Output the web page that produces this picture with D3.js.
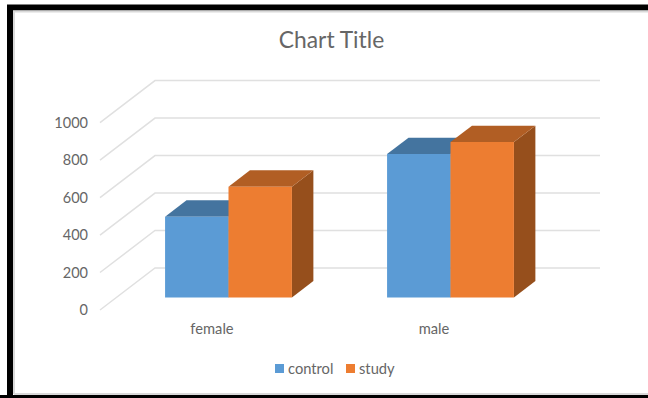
<!DOCTYPE html>
<html>
<head>
<meta charset="utf-8">
<script src="https://cdn.jsdelivr.net/npm/d3@7/dist/d3.min.js"></script>
<style>
  html, body { margin: 0; padding: 0; background: #fff; }
  svg { display: block; }
  text { font-family: Lato, "Open Sans", sans-serif; fill: #666; }
</style>
</head>
<body>
<script>
// Grouped 3-D column chart
const categories = ["female", "male"];
const seriesNames = ["control", "study"];
const control = [431, 765];
const study = [591, 829];
const yTicks = [0, 200, 400, 600, 800, 1000];
const titleText = "Chart Title";

const seriesColors = {
  control: { front: "#5b9bd5", top: "#44749f", side: "#35597a" },
  study: { front: "#ed7d31", top: "#b15e24", side: "#964f1c" }
};

const width = 648, height = 398;
const svg = d3.select("body").append("svg")
  .attr("width", width).attr("height", height);

// Frame around the chart area
svg.append("rect").attr("x", 0).attr("y", 0).attr("width", width).attr("height", height).attr("fill", "#fff");
svg.append("path")
  .attr("fill", "none").attr("stroke", "#000").attr("stroke-width", 6)
  .attr("d", "M10,398 V7.5 H648");
svg.append("path")
  .attr("fill", "none").attr("stroke", "#000").attr("stroke-width", 3)
  .attr("d", "M0,396.5 H648");
svg.append("path")
  .attr("fill", "none").attr("stroke", "#d9d9d9").attr("stroke-width", 2)
  .attr("d", "M14,394 V11.5 H648");
svg.append("path")
  .attr("fill", "none").attr("stroke", "#d9d9d9").attr("stroke-width", 2)
  .attr("d", "M14,394 H648");

// Oblique projection: floor depth runs from 0 (front edge) to 1 (back wall)
const depthX = d3.scaleLinear().domain([0, 1]).range([0, 55]);
const depthY = d3.scaleLinear().domain([0, 1]).range([0, -42]);
const x = d3.scaleBand().domain(categories).range([101, 545]);
const inner = d3.scaleBand().domain(seriesNames)
  .range([0, x.bandwidth()]).paddingOuter(0.75).paddingInner(0);
const y = d3.scaleLinear().domain([0, 1000]).range([310, 122.6]);

const project = (px, value, depth) => [px + depthX(depth), y(value) + depthY(depth)];
const pathOf = pts => "M" + pts.map(p => p.join(",")).join("L") + "Z";

// Floor-and-wall gridlines
svg.append("g").selectAll("path").data(yTicks).join("path")
  .attr("fill", "none").attr("stroke", "#e0e0e0").attr("stroke-width", 1.5)
  .attr("d", v => {
    const a = project(x.range()[0] - 1, v, 0), b = project(x.range()[0] - 1, v, 1), c = project(x.range()[1], v, 1);
    return "M" + a + "L" + b + "L" + c;
  });

// Value axis labels
svg.append("g").selectAll("text").data(yTicks).join("text")
  .attr("x", 88).attr("y", v => y(v)).attr("dy", "0.35em")
  .attr("text-anchor", "end").attr("font-size", 14.5)
  .text(d => d);

// Columns sit between these two floor depths
const barNear = 0.30, barFar = 0.69;
const bars = svg.append("g");
seriesNames.forEach((name, si) => {
  const values = si === 0 ? control : study;
  const col = seriesColors[name];
  categories.forEach((cat, i) => {
    const x0 = x(cat) + inner(name), x1 = x0 + inner.bandwidth();
    const v = values[i];
    const g = bars.append("g");
    g.append("path").attr("fill", col.side)
      .attr("d", pathOf([project(x1, 0, barNear), project(x1, 0, barFar), project(x1, v, barFar), project(x1, v, barNear)]));
    g.append("path").attr("fill", col.top)
      .attr("d", pathOf([project(x0, v, barNear), project(x0, v, barFar), project(x1, v, barFar), project(x1, v, barNear)]));
    g.append("path").attr("fill", col.front)
      .attr("d", pathOf([project(x0, 0, barNear), project(x0, v, barNear), project(x1, v, barNear), project(x1, 0, barNear)]));
  });
});

// Category labels
svg.append("g").selectAll("text").data(categories).join("text")
  .attr("x", d => x(d) + x.bandwidth() / 2).attr("y", 334)
  .attr("text-anchor", "middle").attr("font-size", 14.7)
  .text(d => d);

// Title
svg.append("text").attr("x", 331.5).attr("y", 48)
  .attr("text-anchor", "middle").attr("font-size", 22.8)
  .text(titleText);

// Legend
const legendX = d3.scaleOrdinal().domain(seriesNames).range([275, 346]);
const legend = svg.append("g").selectAll("g").data(seriesNames).join("g")
  .attr("transform", d => `translate(${legendX(d)},364)`);
legend.append("rect").attr("width", 9).attr("height", 9)
  .attr("fill", d => seriesColors[d].front);
legend.append("text").attr("x", 13).attr("y", 9.5)
  .attr("font-size", 14.7).text(d => d);
</script>
</body>
</html>
